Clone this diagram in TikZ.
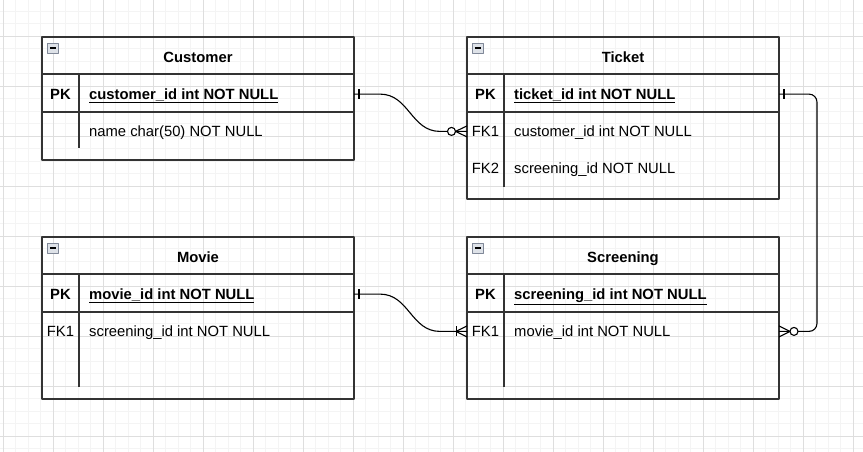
\documentclass[tikz,border=0pt]{standalone}
\usepackage{fontspec}
\setmainfont{Liberation Sans}
\usepackage{tikz}
\usetikzlibrary{positioning}
\definecolor{togline}{RGB}{128,136,152}
\definecolor{togfill}{RGB}{222,226,232}

\begin{document}
\begin{tikzpicture}[x=1pt,y=1pt,line join=round,font=\fontsize{14.8}{17}\selectfont]
\tikzstyle{tbl} = [draw=black!80,line width=1.2pt,anchor=north west,minimum width=312pt,inner sep=0pt,outer sep=0pt]
\tikzstyle{sep} = [draw=black!80,line width=1.2pt]
\tikzstyle{tog} = [draw=togline,fill=togfill,line width=0.8pt,minimum width=11pt,minimum height=10pt,inner sep=0pt]
\tikzstyle{key} = [anchor=base,inner sep=0pt]
\tikzstyle{fld} = [anchor=base west,inner sep=0pt]
\tikzstyle{rel} = [line width=1.1pt]
\tikzstyle{gridminor} = [draw=gray!9,line width=0.9pt]
\tikzstyle{gridmajor} = [draw=gray!26,line width=0.9pt]
\useasboundingbox (0,0) rectangle (863,-452);
\clip (0,0) rectangle (863,-452);
\draw[gridminor,shift={(3.3,-36)}] (-20,-430) grid[step=12.5] (870,50);
\draw[gridmajor,shift={(3.3,-36)}] (-20,-430) grid[step=50] (870,50);
% tables
\foreach \nm/\px/\py/\hgt/\ttl/\pkf in {cust/42/-37/123/Customer/customer\_id int NOT NULL,
    tick/467/-37/162/Ticket/ticket\_id int NOT NULL,
    movie/42/-237/162/Movie/movie\_id int NOT NULL,
    scr/467/-237/162/Screening/screening\_id int NOT NULL}{
  \node[tbl,minimum height=\hgt] (\nm) at (\px,\py) {};
  \draw[sep] ([yshift=-37]\nm.north west) -- ([yshift=-37]\nm.north east);
  \draw[sep] ([yshift=-75]\nm.north west) -- ([yshift=-75]\nm.north east);
  \draw[sep] ([xshift=37,yshift=-37]\nm.north west) -- ([xshift=37,yshift=12]\nm.south west);
  \node[tog] (\nm-tog) at ([xshift=10.75,yshift=-11]\nm.north west) {\rule{6pt}{1.6pt}};
  \node[key] (\nm-title) at ([yshift=-25.3]\nm.north) {\bfseries \ttl};
  \node[key] (\nm-pk) at ([xshift=18.5,yshift=-62.2]\nm.north west) {\bfseries PK};
  \node[fld] (\nm-pkf) at ([xshift=47,yshift=-62.2]\nm.north west) {\bfseries\underline{\pkf}};
}
\node[fld] (cust-f1) at ([xshift=47,yshift=-99.5]cust.north west) {name char(50) NOT NULL};
\node[key] (tick-fk1) at ([xshift=18.5,yshift=-99.5]tick.north west) {FK1};
\node[fld] (tick-f1) at ([xshift=47,yshift=-99.5]tick.north west) {customer\_id int NOT NULL};
\node[key] (tick-fk2) at ([xshift=18.5,yshift=-136.5]tick.north west) {FK2};
\node[fld] (tick-f2) at ([xshift=47,yshift=-136.5]tick.north west) {screening\_id NOT NULL};
\node[key] (movie-fk1) at ([xshift=18.5,yshift=-99.5]movie.north west) {FK1};
\node[fld] (movie-f1) at ([xshift=47,yshift=-99.5]movie.north west) {screening\_id int NOT NULL};
\node[key] (scr-fk1) at ([xshift=18.5,yshift=-99.5]scr.north west) {FK1};
\node[fld] (scr-f1) at ([xshift=47,yshift=-99.5]scr.north west) {movie\_id int NOT NULL};
% customer -- ticket
\coordinate (c1a) at (cust.east |- cust-pk);
\coordinate (c1b) at (tick.west |- tick-fk1);
\draw[rel] (c1a) -- ([xshift=26]c1a) .. controls ([xshift=55]c1a) and ([xshift=-56]c1b) .. ([xshift=-27]c1b) -- (c1b);
\draw[rel] ([xshift=5,yshift=5]c1a) -- ([xshift=5,yshift=-5]c1a);
\draw[rel] ([xshift=-11.5]c1b) -- ([yshift=5.5]c1b) ([xshift=-11.5]c1b) -- ([yshift=-5.5]c1b);
\draw[rel,fill=white] ([xshift=-15.5]c1b) circle (4);
% movie -- screening
\coordinate (c2a) at (movie.east |- movie-pk);
\coordinate (c2b) at (scr.west |- scr-fk1);
\draw[rel] (c2a) -- ([xshift=26]c2a) .. controls ([xshift=55]c2a) and ([xshift=-56]c2b) .. ([xshift=-27]c2b) -- (c2b);
\draw[rel] ([xshift=5,yshift=5]c2a) -- ([xshift=5,yshift=-5]c2a);
\draw[rel] ([xshift=-11]c2b) -- ([yshift=5.5]c2b) ([xshift=-11]c2b) -- ([yshift=-5.5]c2b);
\draw[rel] ([xshift=-10.5,yshift=5]c2b) -- ([xshift=-10.5,yshift=-5]c2b);
% ticket -- screening
\coordinate (c3a) at (tick.east |- tick-pk);
\coordinate (c3b) at (scr.east |- scr-fk1);
\draw[rel,rounded corners=8] (c3a) -- ([xshift=38]c3a) -- ([xshift=38]c3b) -- (c3b);
\draw[rel] ([xshift=5,yshift=5]c3a) -- ([xshift=5,yshift=-5]c3a);
\draw[rel] ([xshift=11]c3b) -- ([yshift=5.5]c3b) ([xshift=11]c3b) -- ([yshift=-5.5]c3b);
\draw[rel,fill=white] ([xshift=15]c3b) circle (4);
\end{tikzpicture}
\end{document}
